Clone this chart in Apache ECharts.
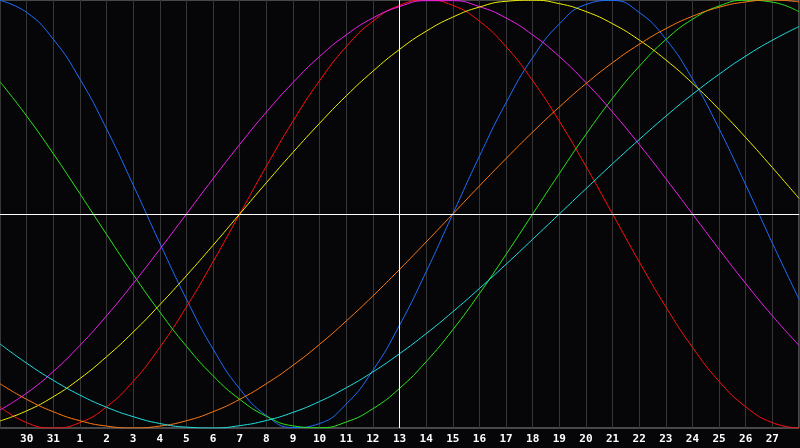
<!DOCTYPE html>
<html>
<head>
<meta charset="utf-8">
<script src="https://cdn.jsdelivr.net/npm/echarts@6/dist/echarts.min.js"></script>
<style>
html,body{margin:0;padding:0;background:#060609;}
#chart{width:800px;height:448px;}
</style>
</head>
<body>
<div id="chart"></div>
<script>
// Day categories (first and last are the plot edges, not labelled)
const days = ['29','30','31','1','2','3','4','5','6','7','8','9','10','11','12','13','14','15','16','17','18','19','20','21','22','23','24','25','26','27','28'];
// Tick labels actually printed under the axis
const tickLabels = ['','30','31','1','2','3','4','5','6','7','8','9','10','11','12','13','14','15','16','17','18','19','20','21','22','23','24','25','26','27',''];

const blue = [0.998,0.942,0.817,0.631,0.398,0.136,-0.136,-0.398,-0.631,-0.817,-0.942,-0.998,-0.979,-0.888,-0.731,-0.520,-0.270,0,0.270,0.520,0.731,0.888,0.979,0.998,0.942,0.817,0.631,0.398,0.136,-0.136,-0.398];
const red = [-0.901,-0.975,-1,-0.975,-0.901,-0.782,-0.623,-0.434,-0.223,0,0.223,0.434,0.623,0.782,0.901,0.975,1,0.975,0.901,0.782,0.623,0.434,0.223,0,-0.223,-0.434,-0.623,-0.782,-0.901,-0.975,-1];
const green = [0.618,0.458,0.282,0.095,-0.095,-0.282,-0.458,-0.618,-0.756,-0.866,-0.945,-0.990,-0.999,-0.972,-0.910,-0.815,-0.690,-0.541,-0.372,-0.189,0,0.189,0.372,0.541,0.690,0.815,0.910,0.972,0.999,0.990,0.945];
const magenta = [-0.916,-0.837,-0.736,-0.614,-0.476,-0.325,-0.165,0,0.165,0.325,0.476,0.614,0.736,0.837,0.916,0.969,0.997,0.997,0.969,0.916,0.837,0.736,0.614,0.476,0.325,0.165,0,-0.165,-0.325,-0.476,-0.614];
const yellow = [-0.967,-0.920,-0.854,-0.769,-0.667,-0.552,-0.424,-0.288,-0.146,0,0.146,0.288,0.424,0.552,0.667,0.769,0.854,0.920,0.967,0.994,0.999,0.983,0.946,0.889,0.813,0.720,0.611,0.489,0.357,0.217,0.073];
const orange = [-0.793,-0.866,-0.924,-0.966,-0.991,-1,-0.991,-0.966,-0.924,-0.866,-0.793,-0.707,-0.609,-0.5,-0.383,-0.259,-0.131,0,0.131,0.259,0.383,0.5,0.609,0.707,0.793,0.866,0.924,0.966,0.991,1,0.991];
const cyan = [-0.607,-0.697,-0.777,-0.846,-0.903,-0.947,-0.979,-0.996,-1.000,-0.989,-0.965,-0.927,-0.876,-0.812,-0.738,-0.653,-0.559,-0.457,-0.348,-0.235,-0.118,0,0.118,0.235,0.348,0.457,0.559,0.653,0.738,0.812,0.876];

const todayLabel = '13';

const curves = [
  {name:'blue', data:blue, color:'#1e6eff'},
  {name:'red', data:red, color:'#ff1010'},
  {name:'green', data:green, color:'#2ae81a'},
  {name:'magenta', data:magenta, color:'#f020f0'},
  {name:'yellow', data:yellow, color:'#f0f000'},
  {name:'orange', data:orange, color:'#ff7a10'},
  {name:'cyan', data:cyan, color:'#20e0e0'}
];

const chart = echarts.init(document.getElementById('chart'), null, {renderer:'canvas'});

const series = [{
  type:'line',
  data:[],
  z:1,
  markLine:{
    silent:true,
    symbol:['none','none'],
    label:{show:false},
    lineStyle:{color:'#ffffff', type:'solid', width:1},
    data:[{xAxis:todayLabel},{yAxis:0}]
  }
}].concat(curves.map(c => ({
  type:'line',
  name:c.name,
  data:c.data,
  smooth:true,
  symbol:'none',
  z:2,
  lineStyle:{color:c.color, width:1},
  itemStyle:{color:c.color}
})));

chart.setOption({
  animation:false,
  backgroundColor:'#060609',
  grid:{left:0, right:1, top:0, bottom:20, containLabel:false, outerBoundsMode:'none',
        show:true, borderColor:'#8a8a8a', borderWidth:1, backgroundColor:'transparent'},
  xAxis:{
    type:'category',
    data:days,
    boundaryGap:false,
    axisLine:{show:true, lineStyle:{color:'#8a8a8a', width:1}},
    axisTick:{show:false},
    splitLine:{show:true, lineStyle:{color:'#363638', width:1}},
    axisLabel:{
      interval:0,
      hideOverlap:false,
      formatter:(v, i) => tickLabels[i],
      color:'#ffffff',
      fontFamily:'DejaVu Sans Mono',
      fontWeight:'bold',
      fontSize:11,
      margin:6
    }
  },
  yAxis:{
    type:'value',
    min:-1,
    max:1,
    show:false,
    splitLine:{show:false}
  },
  series:series
});
</script>
</body>
</html>
